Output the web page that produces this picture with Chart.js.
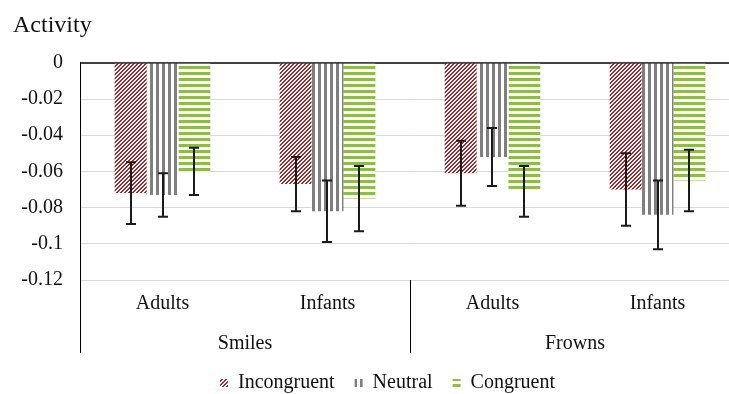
<!DOCTYPE html>
<html>
<head>
<meta charset="utf-8">
<title>Activity</title>
<script src="https://cdn.jsdelivr.net/npm/chart.js@4.4.1/dist/chart.umd.min.js"></script>
<style>
  html, body { margin: 0; padding: 0; background: #fff; overflow: hidden; }
  #wrap { width: 729px; height: 394px; overflow: hidden; }
</style>
</head>
<body>
<div id="wrap"><canvas id="activity-chart" width="745" height="394"></canvas></div>
<script>
// Two-level category axis: age rows under the expression groups
const groups = ['Smiles', 'Frowns'];
const ages = ['Adults', 'Infants', 'Adults', 'Infants'];

// Mean activity and error (± half bar) per condition
const incongruent    = [-0.072, -0.067, -0.061, -0.070];
const incongruentErr = [0.017, 0.015, 0.018, 0.020];
const neutral        = [-0.073, -0.082, -0.052, -0.084];
const neutralErr     = [0.012, 0.017, 0.016, 0.019];
const congruent      = [-0.060, -0.075, -0.071, -0.065];
const congruentErr   = [0.013, 0.018, 0.014, 0.017];

const SERIF = "'Liberation Serif', 'Times New Roman', serif";
const INK = '#111';

Chart.defaults.font.family = SERIF;
Chart.defaults.color = INK;

// Small repeating tiles for the hatched fills
function makePattern(size, paint) {
  const c = document.createElement('canvas');
  c.width = size;
  c.height = size;
  const g = c.getContext('2d');
  g.fillStyle = '#fff';
  g.fillRect(0, 0, size, size);
  paint(g, size);
  return g.createPattern(c, 'repeat');
}

// wide upward diagonal
const redHatch = makePattern(4, (g, s) => {
  g.fillStyle = '#a3292d';
  for (let y = 0; y < s; y++) {
    for (let x = 0; x < s; x++) {
      if ((x + y) % s < 2) g.fillRect(x, y, 1, 1);
    }
  }
});
// vertical stripes
const grayHatch = makePattern(6, (g, s) => {
  g.fillStyle = '#7f7f7f';
  g.fillRect(0, 0, 3, s);
});
// horizontal stripes
const greenHatch = makePattern(6, (g, s) => {
  g.fillStyle = '#8fbb4c';
  g.fillRect(0, 0, s, 3);
});

// Vertical error bars with caps, centred on each bar
const errorBars = {
  id: 'errorBars',
  afterDatasetsDraw(chart) {
    const { ctx, scales: { y } } = chart;
    ctx.save();
    ctx.strokeStyle = '#1a1a1a';
    ctx.lineWidth = 2;
    chart.data.datasets.forEach((ds, i) => {
      chart.getDatasetMeta(i).data.forEach((bar, j) => {
        const v = ds.data[j];
        const e = ds.errors[j];
        const top = y.getPixelForValue(v + e);
        const bot = y.getPixelForValue(v - e);
        const x = Math.round(bar.x);
        ctx.beginPath();
        ctx.moveTo(x, top);
        ctx.lineTo(x, bot);
        ctx.moveTo(x - 5, top);
        ctx.lineTo(x + 5, top);
        ctx.moveTo(x - 5, bot);
        ctx.lineTo(x + 5, bot);
        ctx.stroke();
      });
    });
    ctx.restore();
  }
};

// Lines separating the Smiles / Frowns groups below the plot
const groupDividers = {
  id: 'groupDividers',
  afterDraw(chart) {
    const { ctx, chartArea, scales: { x2 } } = chart;
    ctx.save();
    ctx.strokeStyle = '#000';
    ctx.lineWidth = 1;
    for (let i = 0; i <= groups.length; i++) {
      const px = Math.round(x2.getPixelForValue(i - 0.5)) + 0.5;
      ctx.beginPath();
      ctx.moveTo(px, chartArea.bottom);
      ctx.lineTo(px, x2.bottom);
      ctx.stroke();
    }
    ctx.restore();
  }
};

// Legend sits a little right of the canvas centre (plot runs past the right edge)
const legendShift = {
  id: 'legendShift',
  afterLayout(chart) {
    chart.legend.left += 11;
    chart.legend.right += 11;
  }
};

new Chart(document.getElementById('activity-chart'), {
  type: 'bar',
  data: {
    labels: ages,
    datasets: [
      { label: 'Incongruent', data: incongruent, errors: incongruentErr, backgroundColor: redHatch },
      { label: 'Neutral', data: neutral, errors: neutralErr, backgroundColor: grayHatch },
      { label: 'Congruent', data: congruent, errors: congruentErr, backgroundColor: greenHatch }
    ]
  },
  plugins: [errorBars, groupDividers, legendShift],
  options: {
    responsive: false,
    animation: false,
    layout: { padding: { left: 13, right: 5, top: 0, bottom: -9 } },
    datasets: {
      bar: { barPercentage: 1, categoryPercentage: 0.58, borderWidth: 0 }
    },
    plugins: {
      title: {
        display: true,
        text: 'Activity',
        align: 'start',
        color: INK,
        font: { size: 24, weight: 'normal' },
        padding: { top: 11, bottom: 23 }
      },
      legend: {
        position: 'bottom',
        labels: {
          boxWidth: 8,
          boxHeight: 8,
          padding: 20,
          color: INK,
          font: { size: 20 }
        }
      },
      tooltip: { enabled: false }
    },
    scales: {
      y: {
        min: -0.12,
        max: 0,
        afterFit: s => { s.width = 67; },
        ticks: {
          stepSize: 0.02,
          padding: 17,
          color: INK,
          font: { size: 20 },
          callback: v => String(Number(v.toFixed(2)) || 0)
        },
        grid: {
          drawTicks: false,
          color: c => (c.tick && c.tick.value === 0 ? '#404040' : '#d9d9d9'),
          lineWidth: c => (c.tick && c.tick.value === 0 ? 2 : 1)
        },
        border: { color: '#000', width: 1 }
      },
      x: {
        position: 'bottom',
        weight: 0,
        afterFit: s => { s.height = 40; },
        grid: { display: false, drawTicks: false },
        border: { display: false },
        ticks: { autoSkip: false, maxRotation: 0, padding: 12, color: INK, font: { size: 20 } }
      },
      x2: {
        type: 'category',
        labels: groups,
        offset: true,
        position: 'bottom',
        weight: 1,
        afterFit: s => { s.height = 33; },
        grid: { display: false, drawTicks: false },
        border: { display: false },
        ticks: { autoSkip: false, maxRotation: 0, padding: 12, color: INK, font: { size: 20 } }
      }
    }
  }
});
</script>
</body>
</html>
